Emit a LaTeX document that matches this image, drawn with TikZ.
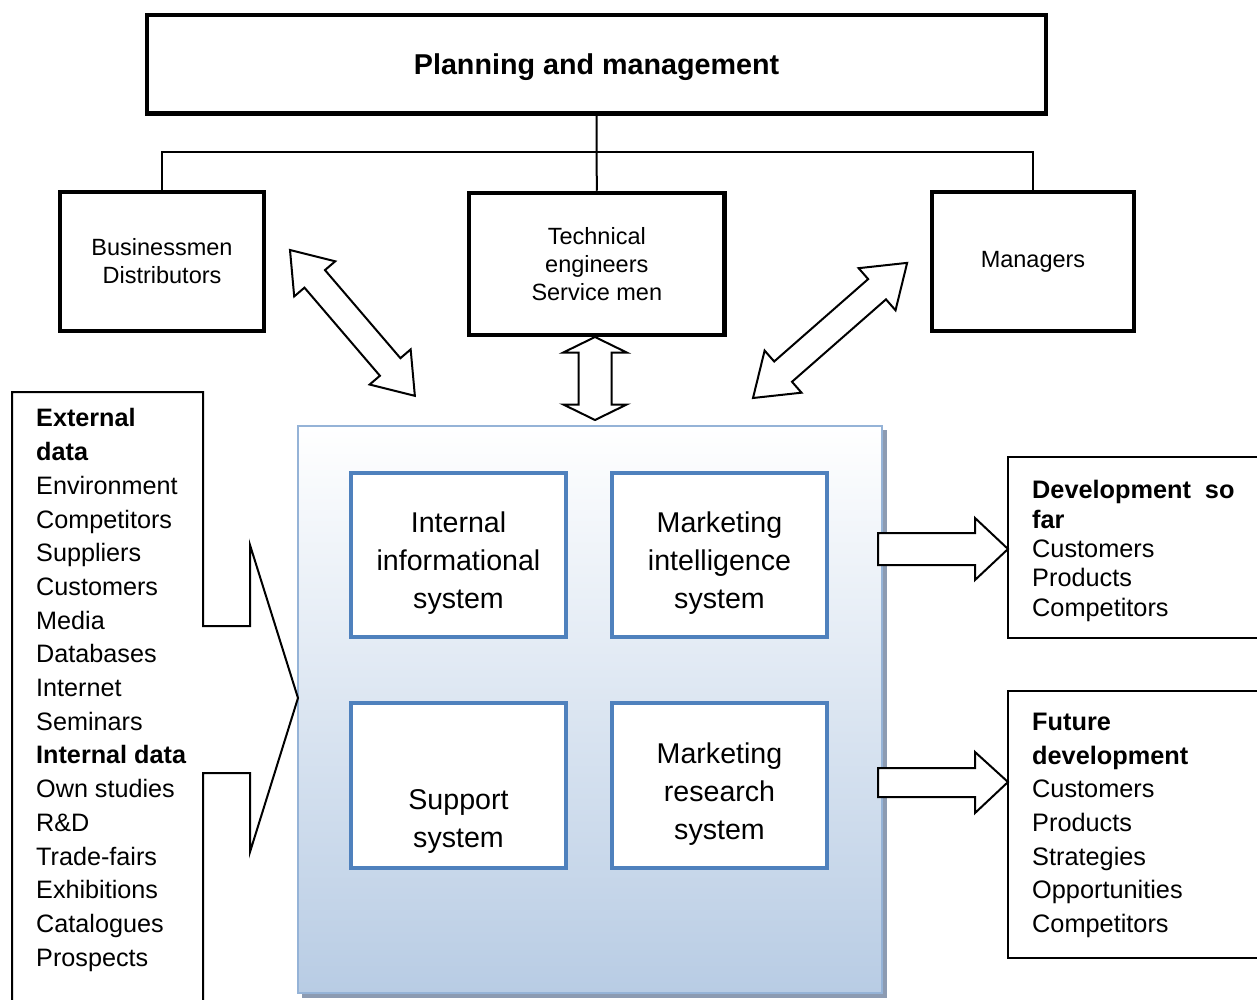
\documentclass[tikz,border=0pt]{standalone}
\usepackage{fontspec}
\setmainfont{Liberation Sans}
\definecolor{sysblue}{RGB}{79,129,189}
\definecolor{panelborder}{RGB}{149,179,215}
\definecolor{panelblue}{RGB}{184,204,228}
\definecolor{shadowgray}{RGB}{140,155,178}
\begin{document}
\begin{tikzpicture}[x=1pt,y=-1pt,
  bigbox/.style={draw=black, line width=4.5pt, fill=white, inner sep=0pt, align=center},
  conn/.style={draw=black, line width=2pt},
  outline/.style={draw=black, line width=2pt, line join=miter},
  sysbox/.style={draw=sysblue, line width=4pt, fill=white, inner sep=0pt},
  systxt/.style={align=center, inner sep=0pt, font=\fontsize{28.6}{38}\selectfont},
  blockarrow/.style={draw=black, line width=2pt, fill=white, line join=miter},
  listtxt/.style={align=left, inner sep=0pt, anchor=west}
]
\useasboundingbox (0,0) rectangle (1257,1000);
\fill[white] (0,0) rectangle (1257,1000);

% top level
\node[bigbox, minimum width=899pt, minimum height=98.5pt,
      font=\bfseries\fontsize{28.7}{34}\selectfont, text height=20.5pt, text depth=0pt]
      (plan) at (596.5,64.25) {Planning and management};
\node[bigbox, minimum width=204pt, minimum height=139pt, font=\fontsize{23.5}{28}\selectfont]
      (biz) at (162,261.5) {Businessmen\\Distributors};
\node[bigbox, minimum width=255.5pt, minimum height=142pt, font=\fontsize{23.5}{28}\selectfont]
      (tech) at (596.8,264) {Technical\\engineers\\Service men};
\node[bigbox, minimum width=202pt, minimum height=139pt, font=\fontsize{23.5}{28}\selectfont]
      (mgr) at (1033,261.5) {Managers};

\coordinate (bus) at (596.8,152);
\draw[conn] (plan.south) -- (tech.north);
\draw[conn] (biz.north) |- (bus) -| (mgr.north);

% central panel
\fill[shadowgray] (302,430) rectangle (887,998);
\node[draw=panelborder, line width=2.5pt, top color=white, bottom color=panelblue,
      minimum width=584pt, minimum height=567pt, inner sep=0pt] (panel) at (590,709.5) {};

\node[sysbox, minimum width=215pt, minimum height=164pt] (iis) at (458.5,555) {};
\node[sysbox, minimum width=215pt, minimum height=164pt] (mis) at (719.5,555) {};
\node[sysbox, minimum width=215pt, minimum height=165pt] (ss)  at (458.5,785.5) {};
\node[sysbox, minimum width=215pt, minimum height=165pt] (mrs) at (719.5,785.5) {};
\node[systxt] (iist) at ([yshift=-7.75pt]iis.center) {Internal\\informational\\system};
\node[systxt] (mist) at ([yshift=-7.75pt]mis.center) {Marketing\\intelligence\\system};
\node[systxt] (sst)  at ([yshift=-36.25pt]ss.center) {Support\\system};
\node[systxt] (mrst) at ([yshift=-8.25pt]mrs.center) {Marketing\\research\\system};

% left data box with arrow into panel
\coordinate (intip) at (298,698);
\draw[outline] (12,1003) -- (12,392) -- (203,392) -- (203,626) -- (250,626) -- (250,545)
      -- (intip) -- (250,852) -- (250,773) -- (203,773) -- (203,1003);
\node[listtxt, font=\fontsize{25.2}{33.7}\selectfont] (extdata) at (36,690)
  {\textbf{External}\\\textbf{data}\\Environment\\Competitors\\Suppliers\\Customers\\Media\\Databases\\Internet\\Seminars\\\textbf{Internal data}\\Own studies\\R\&D\\Trade-fairs\\Exhibitions\\Catalogues\\Prospects};

% right output boxes
\draw[outline] (1262,457) -- (1008,457) -- (1008,638) -- (1262,638);
\node[listtxt, font=\fontsize{25.3}{29.3}\selectfont] (devsofar) at (1032,551)
  {\textbf{Development\hspace{0.55em}so}\\\textbf{far}\\Customers\\Products\\Competitors};
\draw[outline] (1262,691) -- (1008,691) -- (1008,958) -- (1262,958);
\node[listtxt, font=\fontsize{25.3}{33.7}\selectfont] (futdev) at (1032,825.5)
  {\textbf{Future}\\\textbf{development}\\Customers\\Products\\Strategies\\Opportunities\\Competitors};

% right block arrows
\coordinate (o1t) at (1008,549);
\draw[blockarrow] (878,533) -- (975,533) -- (975,518) -- (o1t) -- (975,580) -- (975,565) -- (878,565) -- cycle;
\coordinate (o2t) at (1008,782);
\draw[blockarrow] (878,768) -- (975,768) -- (975,752) -- (o2t) -- (975,813) -- (975,797) -- (878,797) -- cycle;

% double arrows
\coordinate (d1a) at (290,250);
\begin{scope}[shift={(d1a)}, rotate=-49.43]
\draw[blockarrow] (0,0) -- (38,27) -- (38,13.5) -- (154,13.5) -- (154,27) -- (192,0)
   -- (154,-27) -- (154,-13.5) -- (38,-13.5) -- (38,-27) -- cycle;
\end{scope}
\coordinate (d2a) at (753,398);
\begin{scope}[shift={(d2a)}, rotate=41.24]
\draw[blockarrow] (0,0) -- (40,28) -- (40,13.5) -- (165,13.5) -- (165,28) -- (205,0)
   -- (165,-28) -- (165,-13.5) -- (40,-13.5) -- (40,-28) -- cycle;
\end{scope}
\coordinate (d3a) at (595,337);
\begin{scope}[shift={(d3a)}, rotate=-90]
\draw[blockarrow] (0,0) -- (15.5,31.7) -- (15.5,16.5) -- (67.5,16.5) -- (67.5,31.7) -- (83,0)
   -- (67.5,-31.7) -- (67.5,-16.5) -- (15.5,-16.5) -- (15.5,-31.7) -- cycle;
\end{scope}
\end{tikzpicture}
\end{document}
